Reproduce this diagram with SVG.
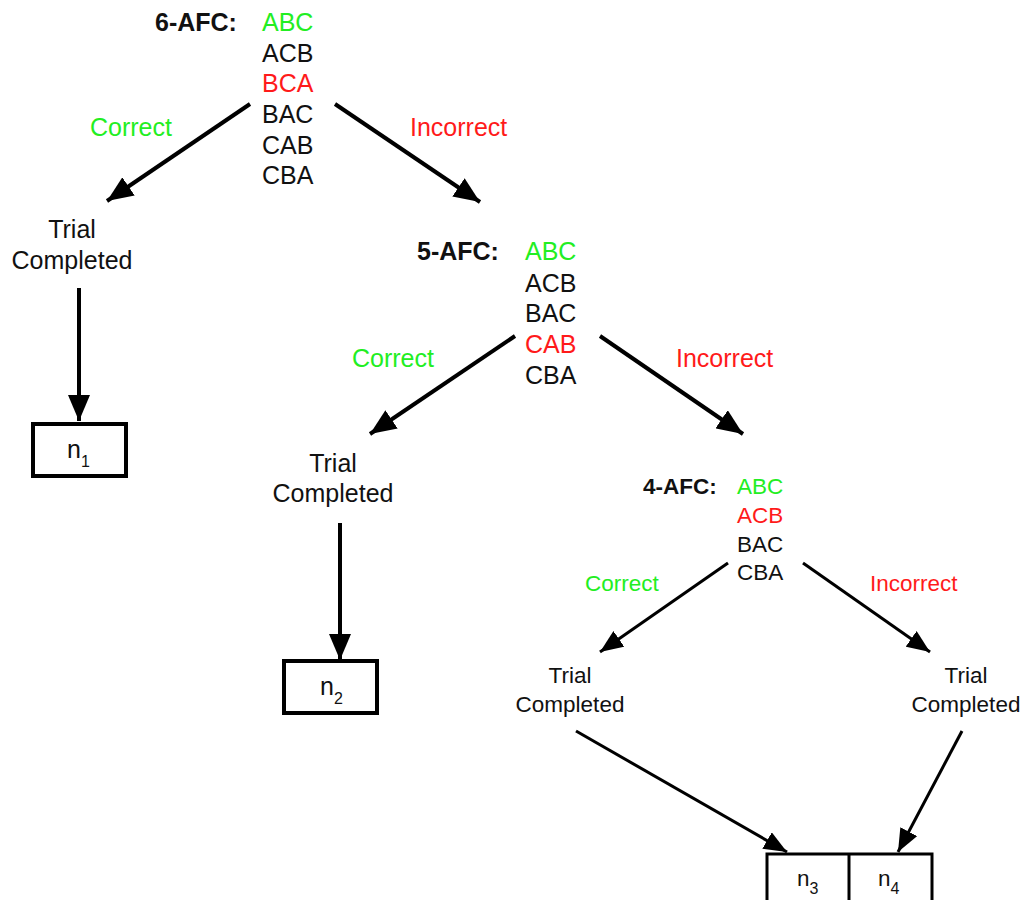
<svg xmlns="http://www.w3.org/2000/svg" width="1027" height="900" viewBox="0 0 1027 900">
<defs>
<style>
text{font-family:"Liberation Sans",Arial,sans-serif;fill:#111}
.big{font-size:25px}
.sm{font-size:22.5px}
.b{font-weight:bold}
.g{fill:#22ee22}
.r{fill:#ff1a1a}
.mid{text-anchor:middle}
.con{stroke:#000;stroke-width:4;fill:none}
.con2{stroke:#000;stroke-width:3;fill:none}
.box{fill:#fff;stroke:#000;stroke-width:4}
.box2{fill:#fff;stroke:#000;stroke-width:3}
.sub{font-size:16px}
</style>
<marker id="ah" markerUnits="userSpaceOnUse" viewBox="0 0 26 22" refX="26" refY="11" markerWidth="26" markerHeight="22" orient="auto">
<path d="M0,0 L26,11 L0,22 z" fill="#000"/>
</marker>
<marker id="ah2" markerUnits="userSpaceOnUse" viewBox="0 0 23 19" refX="23" refY="9.5" markerWidth="23" markerHeight="19" orient="auto">
<path d="M0,0 L23,9.5 L0,19 z" fill="#000"/>
</marker>
</defs>

<g id="connectors">
<line class="con" x1="250" y1="104" x2="107" y2="201" marker-end="url(#ah)"/>
<line class="con" x1="335" y1="104" x2="480" y2="202" marker-end="url(#ah)"/>
<line class="con" x1="79" y1="288" x2="79" y2="421" marker-end="url(#ah)"/>
<line class="con" x1="515" y1="336" x2="370" y2="434" marker-end="url(#ah)"/>
<line class="con" x1="600" y1="336" x2="743" y2="434" marker-end="url(#ah)"/>
<line class="con" x1="340" y1="523" x2="340" y2="660" marker-end="url(#ah)"/>
<line class="con2" x1="728" y1="563" x2="600" y2="652" marker-end="url(#ah2)"/>
<line class="con2" x1="803" y1="563" x2="930" y2="652" marker-end="url(#ah2)"/>
<line class="con2" x1="576" y1="731" x2="787" y2="852" marker-end="url(#ah2)"/>
<line class="con2" x1="962" y1="731" x2="898" y2="852" marker-end="url(#ah2)"/>
</g>

<g id="afc6">
<text class="big b" x="155" y="31">6-AFC:</text>
<text class="big g" x="262" y="31">ABC</text>
<text class="big" x="262" y="62">ACB</text>
<text class="big r" x="262" y="92">BCA</text>
<text class="big" x="262" y="123">BAC</text>
<text class="big" x="262" y="154">CAB</text>
<text class="big" x="262" y="184">CBA</text>
</g>
<g id="lbl6c"><text class="big g" x="90" y="136">Correct</text></g>
<g id="lbl6i"><text class="big r" x="410" y="136">Incorrect</text></g>

<g id="trial1">
<text class="big mid" x="72" y="238">Trial</text>
<text class="big mid" x="72" y="269">Completed</text>
</g>
<g id="n1">
<rect class="box" x="33" y="424" width="93" height="52"/>
<text class="big" x="67" y="458">n<tspan class="sub" dy="9">1</tspan></text>
</g>

<g id="afc5">
<text class="big b" x="417" y="260">5-AFC:</text>
<text class="big g" x="525" y="260">ABC</text>
<text class="big" x="525" y="292">ACB</text>
<text class="big" x="525" y="322">BAC</text>
<text class="big r" x="525" y="353">CAB</text>
<text class="big" x="525" y="384">CBA</text>
</g>
<g id="lbl5c"><text class="big g" x="352" y="367">Correct</text></g>
<g id="lbl5i"><text class="big r" x="676" y="367">Incorrect</text></g>

<g id="trial2">
<text class="big mid" x="333" y="472">Trial</text>
<text class="big mid" x="333" y="502">Completed</text>
</g>
<g id="n2">
<rect class="box" x="284" y="661" width="93" height="52"/>
<text class="big" x="320" y="695">n<tspan class="sub" dy="9">2</tspan></text>
</g>

<g id="afc4">
<text class="sm b" x="643" y="494">4-AFC:</text>
<text class="sm g" x="737" y="494">ABC</text>
<text class="sm r" x="737" y="523">ACB</text>
<text class="sm" x="737" y="552">BAC</text>
<text class="sm" x="737" y="580">CBA</text>
</g>
<g id="lbl4c"><text class="sm g" x="585" y="591">Correct</text></g>
<g id="lbl4i"><text class="sm r" x="870" y="591">Incorrect</text></g>

<g id="trial3">
<text class="sm mid" x="570" y="683">Trial</text>
<text class="sm mid" x="570" y="712">Completed</text>
</g>
<g id="trial4">
<text class="sm mid" x="966" y="683">Trial</text>
<text class="sm mid" x="966" y="712">Completed</text>
</g>

<g id="n3n4">
<rect class="box2" x="767" y="854" width="165" height="50"/>
<line class="box2" x1="849" y1="854" x2="849" y2="904"/>
<text class="sm" x="797" y="886">n<tspan class="sub" dy="8">3</tspan></text>
<text class="sm" x="878" y="886">n<tspan class="sub" dy="8">4</tspan></text>
</g>
</svg>
